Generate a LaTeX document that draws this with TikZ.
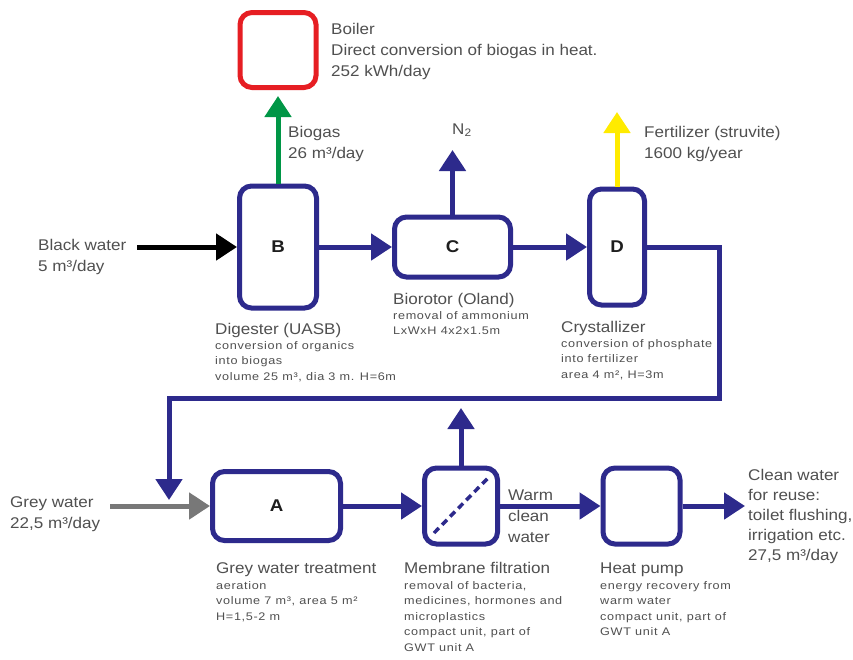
\documentclass[tikz,border=0pt]{standalone}
\usepackage{fontspec}
\setmainfont{Liberation Sans}[FakeStretch=1.1]
\newfontfamily\smallf{Liberation Sans}[FakeStretch=1.15,LetterSpace=6]
\usetikzlibrary{arrows.meta}
\definecolor{flowblue}{RGB}{45,42,140}
\definecolor{boilred}{RGB}{230,30,35}
\definecolor{gasgreen}{RGB}{0,150,70}
\definecolor{fertyellow}{RGB}{255,235,0}
\definecolor{greyarrow}{RGB}{120,120,120}
\definecolor{txt}{RGB}{80,80,80}
\definecolor{letter}{RGB}{30,30,30}
\newcommand\tfont{\fontsize{15.5}{21}\selectfont}
\newcommand\sfnt{\smallf\fontsize{11}{15.5}\selectfont}
\newcommand\tS{\rule{0pt}{12pt}}
\newcommand\sS{\rule{0pt}{8.5pt}}
\begin{document}
\begin{tikzpicture}[x=1pt,y=-1pt,
  box/.style={draw=flowblue, line width=5pt, rounded corners=12pt, inner sep=0pt,
    font=\bfseries\fontsize{17}{17}\selectfont, text=letter},
  flow/.style={draw=flowblue, line width=5pt, line join=miter,
    -{Triangle[length=21pt,width=26pt]}},
  title/.style={anchor=base west, inner sep=0pt, text=txt, font=\tfont},
  tlines/.style={anchor=north west, inner sep=0pt, align=left, text=txt, font=\tfont},
  slines/.style={anchor=north west, inner sep=0pt, align=left, text=txt, font=\sfnt}]
\useasboundingbox (0,0) rectangle (853,659);
\fill[white] (0,0) rectangle (853,659);

% boxes
\node[box, draw=boilred, minimum width=76pt, minimum height=75pt] (boiler) at (278,50) {};
\node[box, minimum width=77pt, minimum height=122pt] (B) at (278,247) {B};
\node[box, minimum width=116pt, minimum height=60pt] (C) at (452.5,247) {C};
\node[box, minimum width=55pt, minimum height=116pt] (D) at (617,247) {D};
\node[box, minimum width=128pt, minimum height=69pt] (A) at (276.5,506) {A};
\node[box, minimum width=73pt, minimum height=76pt] (M) at (461,506) {};
\node[box, minimum width=77pt, minimum height=76pt] (HP) at (641.5,506) {};
\draw[flowblue, line width=3.5pt, dash pattern=on 7pt off 4.5pt]
  ([shift={(-27,27)}]M.center) -- ([shift={(27,-28)}]M.center);

% free ends
\coordinate (bs) at (137,247);
\coordinate (gs) at (110,506);
\coordinate (n2) at (452.5,150);
\coordinate (ft) at (617,112);
\coordinate (p1) at (719,247);
\coordinate (p2) at (719,398);
\coordinate (p3) at (169,398);
\coordinate (p4) at (169,500);
\coordinate (mt) at (461,408);
\coordinate (out) at (745,506);

% connectors
\draw[flow, draw=gasgreen, shorten >=6pt] (B) -- (boiler);
\draw[flow, draw=black] (bs) -- (B);
\draw[flow] (B) -- (C);
\draw[flow] (C) -- (n2);
\draw[flow] (C) -- (D);
\draw[flow, draw=fertyellow] (D) -- (ft);
\draw[flow] (D) -- (p1) -- (p2) -- (p3) -- (p4);
\draw[flow, draw=greyarrow] (gs) -- (A);
\draw[flow] (A) -- (M);
\draw[flow] (M) -- (mt);
\draw[flow] (M) -- (HP);
\draw[flow] (HP) -- (out);

% labels
\node[tlines] (tBoiler) at (331,22) {\tS Boiler\\Direct conversion of biogas in heat.\\252 kWh/day};
\node[tlines] (tBiogas) at (288,125) {\tS Biogas\\26 m³/day};
\node[title] (tN2) at (452,134) {N\textsubscript{2}};
\node[tlines] (tFert) at (644,125) {\tS Fertilizer (struvite)\\1600 kg/year};
\node[tlines] (tBlack) at (38,238) {\tS Black water\\5 m³/day};
\node[tlines] (tGrey) at (10,495) {\tS Grey water\\22,5 m³/day};
\node[tlines] (tWarm) at (508,488) {\tS Warm\\clean\\water};
\node[tlines, font=\fontsize{15.5}{20}\selectfont] (tClean) at (748,468) {\tS Clean water\\for reuse:\\toilet flushing,\\irrigation etc.\\27,5 m³/day};

\node[title] (tDig) at (215,334) {Digester (UASB)};
\node[slines] (tDigD) at (215,340.5) {\sS conversion of organics\\into biogas\\volume 25 m³, dia 3 m. H=6m};
\node[title] (tBio) at (393,304) {Biorotor (Oland)};
\node[slines] (tBioD) at (393,310.5) {\sS removal of ammonium\\LxWxH 4x2x1.5m};
\node[title] (tCry) at (561,332) {Crystallizer};
\node[slines] (tCryD) at (561,338.5) {\sS conversion of phosphate\\into fertilizer\\area 4 m², H=3m};
\node[title] (tGwt) at (216,573) {Grey water treatment};
\node[slines] (tGwtD) at (216,580.5) {\sS aeration\\volume 7 m³, area 5 m²\\H=1,5-2 m};
\node[title] (tMem) at (404,573) {Membrane filtration};
\node[slines] (tMemD) at (404,580.5) {\sS removal of bacteria,\\medicines, hormones and\\microplastics\\compact unit, part of\\GWT unit A};
\node[title] (tHp) at (600,573) {Heat pump};
\node[slines] (tHpD) at (600,580.5) {\sS energy recovery from\\warm water\\compact unit, part of\\GWT unit A};
\end{tikzpicture}
\end{document}
